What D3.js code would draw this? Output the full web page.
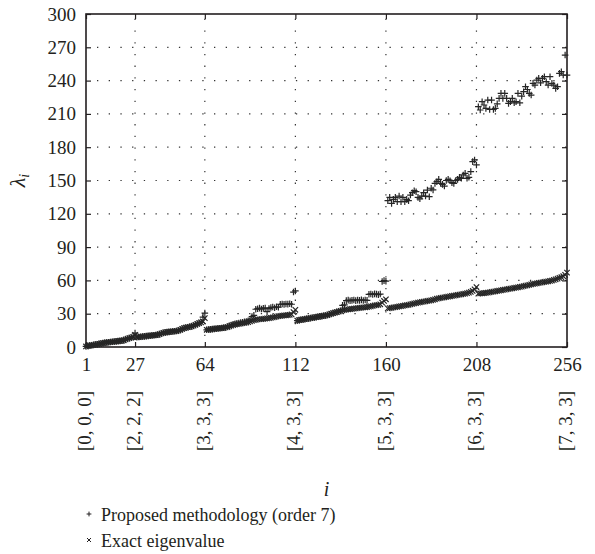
<!DOCTYPE html>
<html>
<head>
<meta charset="utf-8">
<script src="https://cdn.jsdelivr.net/npm/d3@7"></script>
<style>
  html, body { margin: 0; padding: 0; background: #fff; }
  svg { display: block; }
  svg text { font-family: 'Liberation Serif', 'Times New Roman', Times, 'DejaVu Serif', serif; }
</style>
</head>
<body>
<svg id="chart" width="595" height="554"></svg>
<script>
/* ── Data: eigenvalue index ranges (i = 1..256) ─────────── */
const xTicks   = [1, 27, 64, 112, 160, 208, 256];
const xGroups  = ['[0, 0, 0]', '[2, 2, 2]', '[3, 3, 3]', '[4, 3, 3]', '[5, 3, 3]', '[6, 3, 3]', '[7, 3, 3]'];
const yTicks   = [0, 30, 60, 90, 120, 150, 180, 210, 240, 270, 300];

// exact eigenvalues, one array per index block
const exact1 = [0.5, 1.0, 1.3, 1.6, 1.9, 2.2, 2.5, 2.8, 3.2, 3.5, 3.8, 4.1, 4.3, 4.5, 4.7, 4.9, 5.1, 5.3, 5.5, 5.7,
  6.0, 6.8, 7.5, 8.0, 8.5, 9.0, 11.0];
const exact2 = [8.8, 9.0, 9.2, 9.4, 9.6, 9.8, 10.0, 10.2, 10.4, 10.6, 10.8, 11.0, 11.5, 12.2, 12.8, 13.2, 13.4, 13.6,
  13.8, 14.0, 14.2, 14.4, 14.8, 15.5, 16.3, 17.0, 17.4, 17.8, 18.2, 18.6, 19.2, 20.0, 20.8, 21.5, 22.2, 23.0, 26.0];
const exact3 = [15.5, 15.7, 15.9, 16.1, 16.3, 16.5, 16.7, 16.9, 17.1, 17.3, 17.6, 18.0, 18.6, 19.2, 19.8, 20.2, 20.5,
  20.8, 21.1, 21.4, 21.7, 22.0, 22.4, 23.0, 23.6, 24.2, 24.5, 24.8, 25.0, 25.2, 25.4, 25.6, 25.8, 26.0, 26.3, 26.6,
  27.0, 27.4, 27.8, 28.0, 28.2, 28.4, 28.6, 28.8, 29.0, 29.4, 31.5, 33.5];
const exact4 = [23.8, 24.2, 24.5, 24.8, 25.1, 25.4, 25.7, 26.0, 26.3, 26.6, 26.9, 27.2, 27.5, 27.8, 28.1, 28.4, 28.8,
  29.4, 30.0, 30.5, 31.0, 31.5, 32.0, 32.5, 33.0, 33.4, 33.7, 34.0, 34.2, 34.4, 34.6, 34.8, 35.0, 35.2, 35.4, 35.6,
  35.8, 36.0, 36.3, 36.6, 37.0, 37.4, 37.7, 38.0, 38.5, 40.0, 41.5, 43.0];
const exact5 = [34.8, 35.0, 35.3, 35.6, 35.9, 36.2, 36.5, 36.8, 37.1, 37.4, 37.7, 38.0, 38.4, 38.8, 39.2, 39.6, 40.0,
  40.3, 40.6, 40.9, 41.2, 41.5, 41.8, 42.1, 42.5, 43.0, 43.5, 43.9, 44.2, 44.5, 44.8, 45.1, 45.4, 45.7, 46.0, 46.3,
  46.6, 46.9, 47.2, 47.5, 47.8, 48.1, 48.5, 49.0, 49.6, 50.5, 52.0, 54.0];
const exact6 = [48.0, 48.2, 48.4, 48.6, 48.8, 49.0, 49.3, 49.6, 49.9, 50.2, 50.5, 50.8, 51.1, 51.4, 51.7, 52.0, 52.3,
  52.6, 52.9, 53.2, 53.5, 53.8, 54.1, 54.4, 54.8, 55.2, 55.6, 56.0, 56.4, 56.8, 57.1, 57.4, 57.7, 58.0, 58.3, 58.6,
  58.9, 59.2, 59.5, 59.9, 60.4, 61.0, 61.6, 62.2, 62.9, 63.8, 65.0, 67.0];

// proposed methodology (order 7), same blocks
const proposed1 = [0.5, 1.0, 1.3, 1.6, 1.9, 2.2, 2.5, 2.8, 3.2, 3.5, 3.8, 4.1, 4.3, 4.5, 4.7, 4.9, 5.1, 5.3, 5.5, 5.7,
  6.0, 6.8, 7.5, 8.0, 8.5, 9.0, 12.5];
const proposed2 = [8.8, 9.0, 9.2, 9.4, 9.6, 9.8, 10.0, 10.2, 10.4, 10.6, 10.8, 11.0, 11.5, 12.2, 12.8, 13.2, 13.4, 13.6,
  13.8, 14.0, 14.2, 14.4, 14.8, 15.5, 16.3, 17.0, 17.4, 17.8, 18.2, 18.6, 19.2, 20.0, 20.8, 21.5, 22.2, 27.0, 30.5];
const proposed3 = [15.5, 15.7, 15.9, 16.1, 16.3, 16.5, 16.7, 16.9, 17.1, 17.3, 17.6, 18.5, 19.2, 19.8, 20.5, 21.0, 21.3,
  21.6, 22.0, 22.3, 22.6, 23.0, 23.6, 24.5, 27.5, 28.5, 34.0, 34.5, 35.0, 34.2, 34.8, 35.2, 31.8, 34.6, 35.6, 36.0,
  35.4, 36.2, 35.8, 38.5, 38.7, 38.4, 38.8, 38.6, 38.9, 38.5, 49.5, 50.5];
const proposed4 = [23.8, 24.2, 24.5, 24.8, 25.1, 25.4, 25.7, 26.0, 26.3, 26.6, 26.9, 27.2, 27.5, 27.8, 28.1, 28.4, 28.8,
  29.4, 30.0, 30.5, 31.0, 31.5, 32.0, 32.5, 37.5, 38.0, 41.8, 42.2, 41.6, 42.0, 42.4, 41.8, 42.2, 42.0, 42.5, 41.9,
  42.3, 42.0, 47.5, 47.8, 47.3, 47.9, 47.6, 47.2, 47.7, 59.0, 59.8, 59.3];
const proposed5 = [131.8, 134.8, 129.4, 133.0, 134.8, 131.0, 136.0, 130.9, 134.8, 130.9, 133.0, 131.8, 136.9, 139.0,
  140.8, 139.9, 134.8, 133.5, 136.0, 139.0, 136.0, 141.4, 135.4, 143.0, 141.5, 147.4, 148.9, 151.0, 147.4, 146.5,
  145.0, 150.0, 151.0, 149.8, 148.0, 147.4, 150.0, 151.0, 152.9, 152.0, 155.0, 156.5, 152.0, 152.9, 158.0, 167.0,
  168.5, 164.0];
const proposed6 = [216.5, 213.5, 221.0, 218.0, 215.0, 222.5, 214.0, 222.5, 214.0, 215.0, 219.0, 224.0, 228.5, 224.0,
  228.5, 224.0, 219.5, 221.0, 224.0, 220.0, 221.0, 228.5, 220.0, 226.0, 230.0, 234.5, 232.0, 228.5, 227.0, 237.5,
  236.0, 240.5, 242.0, 238.0, 242.0, 243.5, 239.0, 236.0, 243.5, 237.5, 236.0, 233.0, 234.5, 246.5, 248.0, 245.0,
  263.0, 245.0];

const exact    = [].concat(exact1, exact2, exact3, exact4, exact5, exact6);
const proposed = [].concat(proposed1, proposed2, proposed3, proposed4, proposed5, proposed6);

/* ── Layout ─────────────────────────────────────────────── */
const INK = '#231f20';
const FONT = "'Liberation Serif', 'Times New Roman', Times, 'DejaVu Serif', serif";
const plot = { left: 86, top: 14, right: 567, bottom: 347 };

const svg = d3.select('#chart');
const x = d3.scaleLinear().domain([1, 256]).range([plot.left, plot.right]);
const y = d3.scaleLinear().domain([0, 300]).range([plot.bottom, plot.top]);

/* ── Grid (dotted) ──────────────────────────────────────── */
const grid = svg.append('g')
  .attr('stroke', '#333')
  .attr('stroke-width', 1.2)
  .attr('stroke-dasharray', '1.3,10.4');

grid.selectAll('line.h')
  .data(yTicks.filter(v => v > 0 && v < 300))
  .enter().append('line')
  .attr('x1', plot.left + 11).attr('x2', plot.right)
  .attr('y1', d => y(d)).attr('y2', d => y(d));

grid.selectAll('line.v')
  .data(xTicks.filter(v => v > 1 && v < 256))
  .enter().append('line')
  .attr('x1', d => x(d)).attr('x2', d => x(d))
  .attr('y1', plot.bottom - 11).attr('y2', plot.top);

/* ── Axes ───────────────────────────────────────────────── */
function styleAxis(g) {
  g.select('.domain').remove();
  g.selectAll('.tick line').attr('stroke', INK).attr('stroke-width', 1.2);
  g.selectAll('.tick text')
    .attr('fill', INK)
    .attr('font-family', FONT)
    .attr('font-size', 19);
}

svg.append('g')
  .attr('transform', `translate(0,${plot.bottom})`)
  .call(d3.axisBottom(x).tickValues(xTicks).tickSize(-5).tickPadding(11))
  .call(styleAxis);

svg.append('g')
  .attr('transform', `translate(0,${plot.top})`)
  .call(d3.axisTop(x).tickValues(xTicks).tickSize(-5).tickFormat(''))
  .call(styleAxis);

svg.append('g')
  .attr('transform', `translate(${plot.left},0)`)
  .call(d3.axisLeft(y).tickValues(yTicks).tickSize(-5).tickPadding(10))
  .call(styleAxis);

svg.append('g')
  .attr('transform', `translate(${plot.right},0)`)
  .call(d3.axisRight(y).tickValues(yTicks).tickSize(-5).tickFormat(''))
  .call(styleAxis);

svg.selectAll('g').attr('font-family', FONT);

// frame
svg.append('rect')
  .attr('x', plot.left).attr('y', plot.top)
  .attr('width', plot.right - plot.left).attr('height', plot.bottom - plot.top)
  .attr('fill', 'none').attr('stroke', INK).attr('stroke-width', 1.6);

// rotated group labels under the index ticks
svg.append('g')
  .selectAll('text')
  .data(xTicks)
  .enter().append('text')
  .attr('transform', d => `translate(${x(d) + 5},391) rotate(-90)`)
  .attr('text-anchor', 'end')
  .attr('fill', INK)
  .attr('font-family', FONT)
  .attr('font-size', 19)
  .text((d, k) => xGroups[k]);

// axis titles
svg.append('text')
  .attr('x', (plot.left + plot.right) / 2).attr('y', 496)
  .attr('text-anchor', 'middle')
  .attr('fill', INK)
  .attr('font-family', FONT)
  .attr('font-size', 20).attr('font-style', 'italic')
  .text('i');

const yTitle = svg.append('text')
  .attr('transform', `translate(25,${(plot.top + plot.bottom) / 2}) rotate(-90)`)
  .attr('text-anchor', 'middle')
  .attr('fill', INK)
  .attr('font-family', FONT)
  .attr('font-size', 22).attr('font-style', 'italic');
yTitle.append('tspan').text('λ');
yTitle.append('tspan').attr('dy', 4).attr('font-size', 14).text('i');

/* ── Markers ────────────────────────────────────────────── */
const plusPath  = (cx, cy, s) => `M${cx - s},${cy}H${cx + s}M${cx},${cy - s}V${cy + s}`;
const timesPath = (cx, cy, s) => `M${cx - s},${cy - s}L${cx + s},${cy + s}M${cx - s},${cy + s}L${cx + s},${cy - s}`;

svg.append('g')
  .attr('stroke', '#262626').attr('stroke-width', 1.2).attr('fill', 'none')
  .selectAll('path')
  .data(exact)
  .enter().append('path')
  .attr('d', (v, k) => timesPath(x(k + 1), y(v), 2.7));

svg.append('g')
  .attr('stroke', '#262626').attr('stroke-width', 1.2).attr('fill', 'none')
  .selectAll('path')
  .data(proposed)
  .enter().append('path')
  .attr('d', (v, k) => plusPath(x(k + 1), y(v), 3.3));

/* ── Legend ─────────────────────────────────────────────── */
const legend = [
  { label: 'Proposed methodology (order 7)', mark: plusPath,  y: 515 },
  { label: 'Exact eigenvalue',               mark: timesPath, y: 541 }
];

const lg = svg.append('g');
lg.selectAll('path')
  .data(legend)
  .enter().append('path')
  .attr('d', d => d.mark(89, d.y - 1, d.mark === plusPath ? 2.4 : 2))
  .attr('stroke', INK).attr('stroke-width', 1).attr('fill', 'none');

lg.selectAll('text')
  .data(legend)
  .enter().append('text')
  .attr('x', 101).attr('y', d => d.y + 6)
  .attr('fill', INK)
  .attr('font-family', FONT)
  .attr('font-size', 18)
  .text(d => d.label);
</script>
</body>
</html>
